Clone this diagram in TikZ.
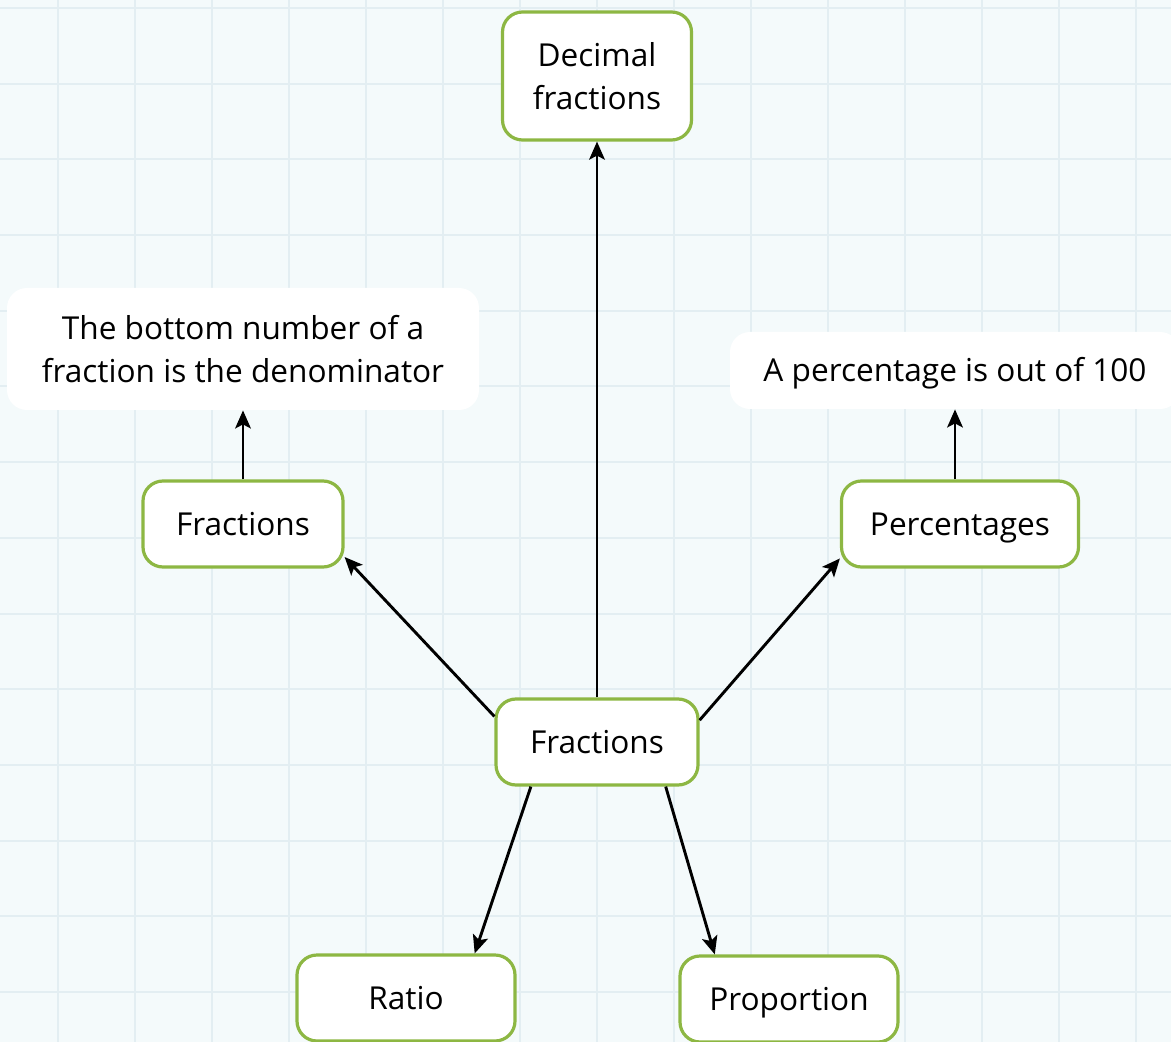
\documentclass[tikz,border=0pt]{standalone}
\usepackage{fontspec}
\setmainfont{Open Sans}
\usepackage{xcolor}
\usetikzlibrary{arrows.meta,positioning}

\definecolor{paper}{HTML}{F4FAFB}
\definecolor{gridline}{HTML}{E3EEF2}
\definecolor{leaf}{HTML}{8DB743}

\begin{document}
\begin{tikzpicture}[
  x=0.5pt,y=-0.5pt,
  topic/.style={draw=leaf,line width=1.6pt,fill=white,rounded corners=10pt,
                align=center,inner sep=2pt,minimum height=43pt,
                font=\fontsize{15.8}{21.5}\selectfont},
  one/.style={text height=11.3pt,text depth=0pt},
  note/.style={fill=white,rounded corners=10pt,align=center,inner sep=2pt,
               font=\fontsize{15.8}{21.5}\selectfont},
  ar/.style={-{Stealth[length=9pt,width=7.8pt,inset=2pt]},line width=1.45pt,draw=black}
]
\useasboundingbox (0,0) rectangle (1171,1042);
\fill[paper] (0,0) rectangle (1171,1042);
% grid
\foreach \gx in {57.5,134.5,...,1171} \draw[gridline,line width=1pt] (\gx,0) -- (\gx,1042);
\foreach \gy in {8,83.7,...,1042} \draw[gridline,line width=1pt] (0,\gy) -- (1171,\gy);

\node[topic,one,minimum width=101pt] (ctr) at (597,742) {Fractions};
\node[topic,minimum width=94.5pt,minimum height=64pt] (dec) at (597,76) {Decimal\\fractions};
\node[topic,one,minimum width=100pt] (frac) at (243,524) {Fractions};
\node[topic,one,minimum width=118.5pt] (perc) at (960,524) {Percentages};
\node[topic,one,minimum width=109pt] (ratio) at (406,998) {Ratio};
\node[topic,one,minimum width=109pt] (prop) at (789,999) {Proportion};
\node[note,minimum width=236pt,minimum height=61pt,above=34.5pt of frac] (fnote)
  {The bottom number of a\\fraction is the denominator};
\node[note,one,minimum width=225pt,minimum height=38.5pt,above=35pt of perc,xshift=-2.5pt] (pnote)
  {A percentage is out of 100};

\draw[ar] (ctr) -- (dec);
\draw[ar] (ctr.166) -- (frac.-18);
\draw[ar] (ctr.12) -- (perc.196);
\draw[ar] (ctr.214) -- (ratio.33);
\draw[ar] (ctr.-33) -- (prop.149);
\draw[ar] (frac) -- (fnote);
\draw[ar] (perc.north -| pnote) -- (pnote);
\end{tikzpicture}
\end{document}
